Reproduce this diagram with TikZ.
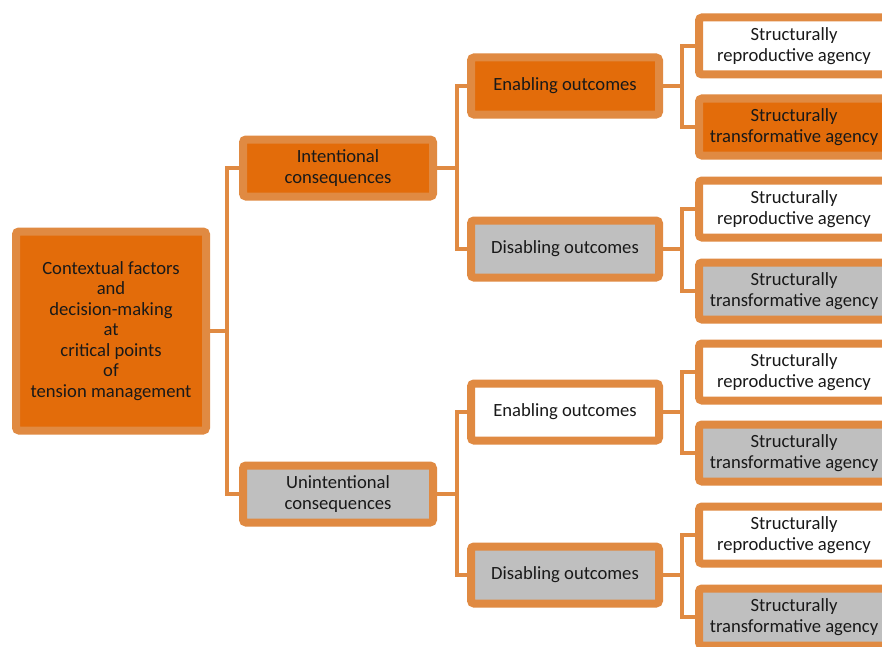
\documentclass[tikz,border=0pt]{standalone}
\usepackage{fontspec}
\setmainfont{Carlito}
\usepackage{xcolor}
\usetikzlibrary{shadows, positioning}
\definecolor{edgeorange}{RGB}{224,138,66}
\definecolor{darkorange}{RGB}{227,108,10}
\definecolor{boxgrey}{RGB}{191,191,191}
\tikzstyle{box} = [rectangle, draw=edgeorange, line width=0.16cm, rounded corners=0.06cm, minimum width=3.8cm, minimum height=1.14cm, align=center, inner sep=2pt, font=\fontsize{10.6}{12}\selectfont, text=black!90, drop shadow={shadow xshift=0.04cm, shadow yshift=-0.06cm, opacity=0.3}]
\tikzstyle{link} = [draw=edgeorange, line width=0.08cm]

\begin{document}
\begin{tikzpicture}
\clip (0,0) rectangle (17.64,12.92);
\fill[white] (0,0) rectangle (17.64,12.92);
% root
\node[box, fill=darkorange, minimum height=3.98cm, font=\fontsize{10.6}{11.7}\selectfont] (root) at (2.22,6.3)
    {Contextual factors\\and\\decision-making\\at\\critical points\\of\\tension management};
% consequences
\node[box, fill=darkorange] (intent) at (6.76,9.56) {Intentional\\consequences};
\node[box, fill=boxgrey] (unintent) at (6.76,3.04) {Unintentional\\consequences};
% outcomes
\node[box, fill=darkorange, minimum width=3.76cm] (enabA) at (11.3,11.2) {Enabling outcomes};
\node[box, fill=boxgrey, minimum width=3.76cm] (disabA) at (11.3,7.94) {Disabling outcomes};
\node[box, fill=white, minimum width=3.76cm] (enabB) at (11.3,4.68) {Enabling outcomes};
\node[box, fill=boxgrey, minimum width=3.76cm] (disabB) at (11.3,1.42) {Disabling outcomes};
% agency
\node[box, fill=white] (reproA) at (15.88,12.0) {Structurally\\reproductive agency};
\node[box, fill=darkorange] (transA) at (15.88,10.38) {Structurally\\transformative agency};
\node[box, fill=white] (reproB) at (15.88,8.74) {Structurally\\reproductive agency};
\node[box, fill=boxgrey] (transB) at (15.88,7.1) {Structurally\\transformative agency};
\node[box, fill=white] (reproC) at (15.88,5.48) {Structurally\\reproductive agency};
\node[box, fill=boxgrey] (transC) at (15.88,3.86) {Structurally\\transformative agency};
\node[box, fill=white] (reproD) at (15.88,2.22) {Structurally\\reproductive agency};
\node[box, fill=boxgrey] (transD) at (15.88,0.58) {Structurally\\transformative agency};
% connectors
\draw[link] (root.east) -- ++(0.34,0) |- (intent.west);
\draw[link] (root.east) -- ++(0.34,0) |- (unintent.west);
\draw[link] (intent.east) -- ++(0.4,0) |- (enabA.west);
\draw[link] (intent.east) -- ++(0.4,0) |- (disabA.west);
\draw[link] (unintent.east) -- ++(0.4,0) |- (enabB.west);
\draw[link] (unintent.east) -- ++(0.4,0) |- (disabB.west);
\draw[link] (enabA.east) -- ++(0.38,0) |- (reproA.west);
\draw[link] (enabA.east) -- ++(0.38,0) |- (transA.west);
\draw[link] (disabA.east) -- ++(0.38,0) |- (reproB.west);
\draw[link] (disabA.east) -- ++(0.38,0) |- (transB.west);
\draw[link] (enabB.east) -- ++(0.38,0) |- (reproC.west);
\draw[link] (enabB.east) -- ++(0.38,0) |- (transC.west);
\draw[link] (disabB.east) -- ++(0.38,0) |- (reproD.west);
\draw[link] (disabB.east) -- ++(0.38,0) |- (transD.west);
\end{tikzpicture}
\end{document}
